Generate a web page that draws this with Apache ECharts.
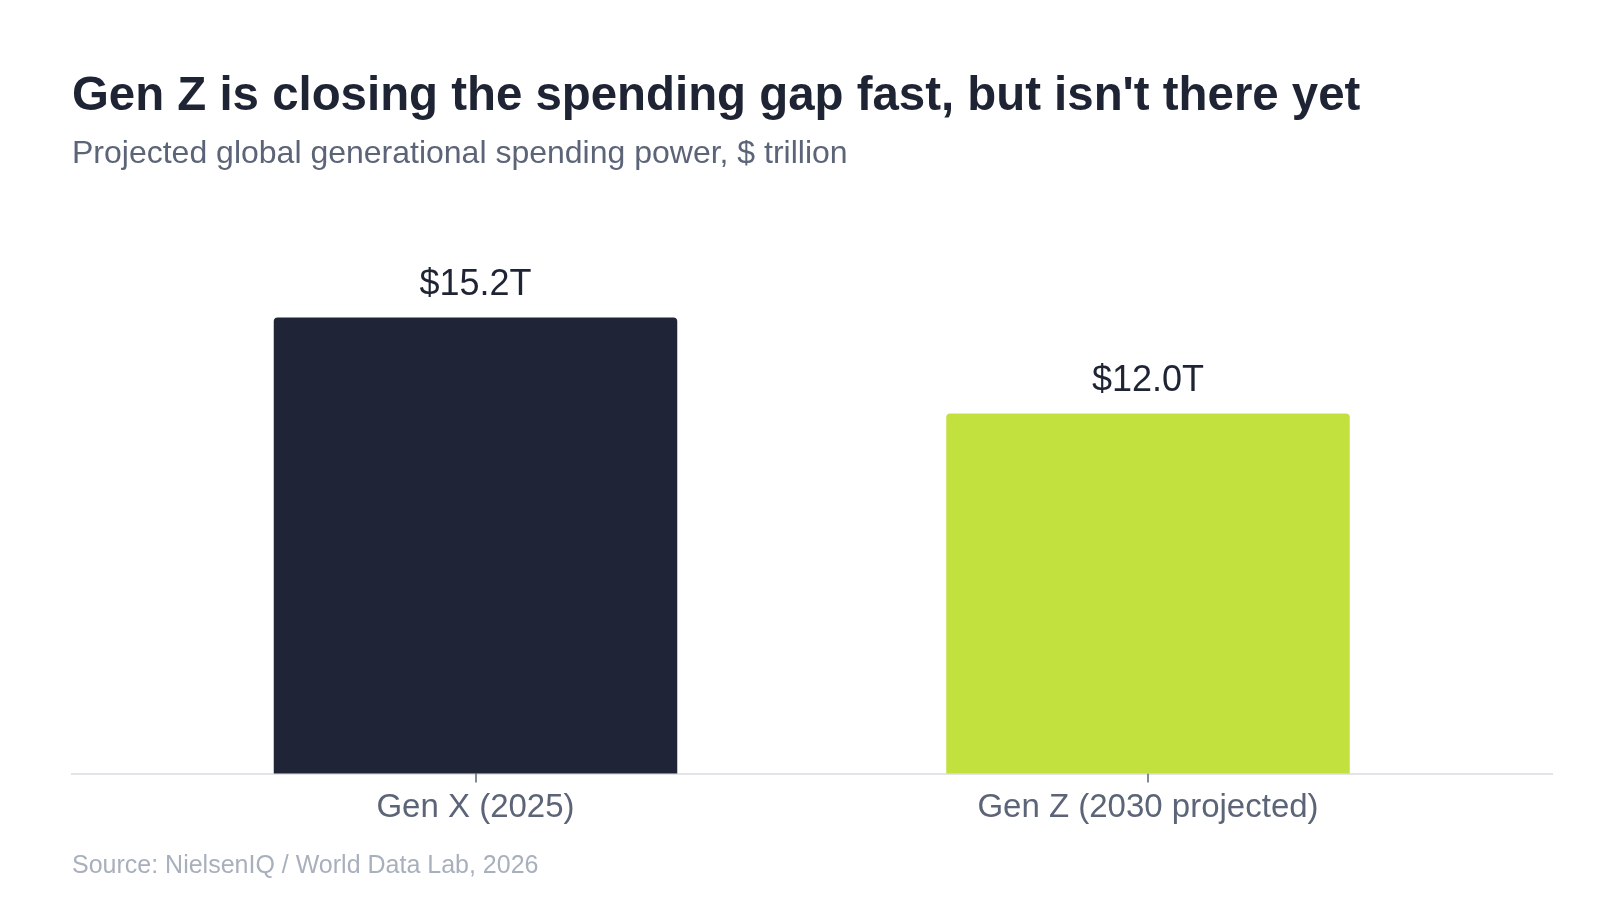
<!DOCTYPE html>
<html>
<head>
<meta charset="utf-8">
<script src="https://cdn.jsdelivr.net/npm/echarts@6/dist/echarts.min.js"></script>
<style>
html, body { margin: 0; padding: 0; background: #ffffff; }
#chart { width: 1600px; height: 900px; }
</style>
</head>
<body>
<div id="chart"></div>
<script>
var categories = ['Gen X (2025)', 'Gen Z (2030 projected)'];
var values = [15.2, 12.0];
var barColors = ['#1f2537', '#c2e13f'];
var valueLabels = ['$15.2T', '$12.0T'];

var chart = echarts.init(document.getElementById('chart'));

var option = {
	backgroundColor: '#ffffff',
	animation: false,
	textStyle: { fontFamily: 'Liberation Sans, Arial, sans-serif' },
	title: {
		text: "Gen Z is closing the spending gap fast, but isn't there yet",
		subtext: 'Projected global generational spending power, $ trillion',
		left: 72,
		top: 73,
		itemGap: 18,
		padding: 0,
		textStyle: { fontSize: 47.4, fontWeight: 'bold', color: '#1e2433' },
		subtextStyle: { fontSize: 32, color: '#5c6478' }
	},
	graphic: [{
		type: 'line',
		shape: { x1: 71, y1: 774, x2: 1553, y2: 774 },
		style: { stroke: '#e3e4e8', lineWidth: 2 },
		z: 0
	}, {
		type: 'text',
		left: 72,
		top: 854,
		style: {
			text: 'Source: NielsenIQ / World Data Lab, 2026',
			fontSize: 25,
			fill: '#a9b0bd',
			fontFamily: 'Liberation Sans, Arial, sans-serif'
		}
	}],
	grid: { left: 139.25, right: 115.75, top: 293.5, bottom: 126.5 },
	xAxis: {
		type: 'category',
		data: categories,
		axisLine: { show: false },
		axisTick: { show: true, alignWithLabel: true, length: 9, lineStyle: { color: '#5c6478', width: 1.5 } },
		axisLabel: { fontSize: 33, color: '#5c6478', margin: 18 }
	},
	yAxis: {
		type: 'value',
		min: 0,
		max: 16,
		show: false,
		splitLine: { show: false }
	},
	series: [{
		type: 'bar',
		barWidth: '60%',
		data: values.map(function(v, i) {
			return {
				value: v,
				itemStyle: { color: barColors[i], borderRadius: [4, 4, 0, 0] },
				label: { formatter: valueLabels[i] }
			};
		}),
		label: {
			show: true,
			position: 'top',
			distance: 14,
			fontSize: 36,
			color: '#1e2433'
		}
	}]
};
chart.setOption(option);
</script>
</body>
</html>
